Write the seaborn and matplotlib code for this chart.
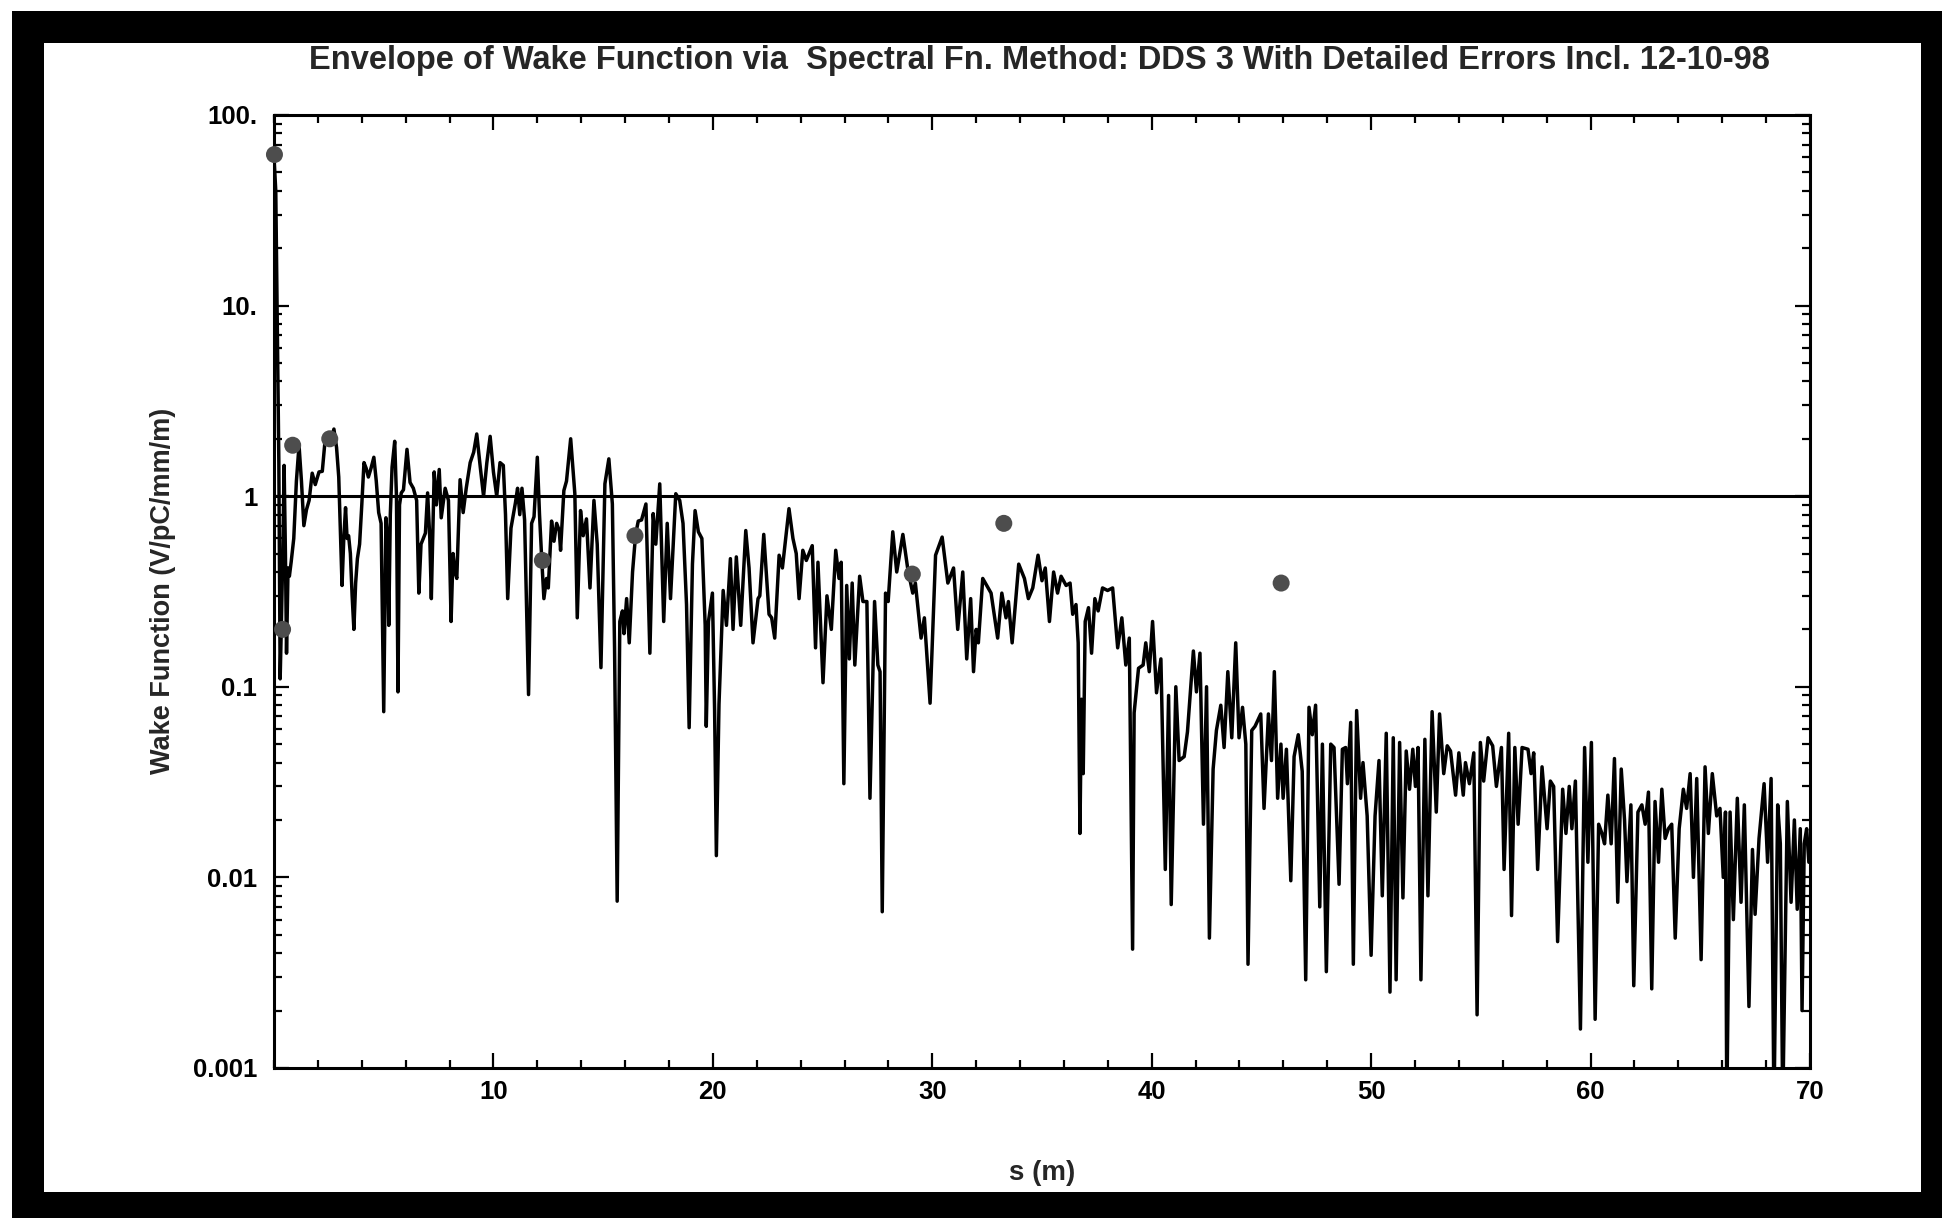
import numpy as np
import pandas as pd
import matplotlib
matplotlib.use("Agg")
import matplotlib.pyplot as plt
import seaborn as sns
from matplotlib import font_manager
from matplotlib.patches import Rectangle
from matplotlib.ticker import FixedLocator, MultipleLocator, LogLocator, NullFormatter

# wake envelope: (s in m, wake in V/pC/mm/m), piece by piece
wake_0_12 = [
    (0.00, 60), (0.08, 40), (0.15, 8), (0.22, 1.5), (0.28, 0.11), (0.33, 0.2),
    (0.40, 0.5), (0.46, 1.45), (0.52, 0.5), (0.57, 0.15), (0.64, 0.42), (0.70, 0.38),
    (0.78, 0.45), (0.90, 0.6), (1.02, 1.2), (1.14, 1.85), (1.25, 1.2), (1.36, 0.7),
    (1.48, 0.85), (1.60, 0.95), (1.74, 1.32), (1.88, 1.15), (2.05, 1.34), (2.20, 1.35),
    (2.35, 2.1), (2.50, 1.95), (2.62, 2.0), (2.73, 2.25), (2.85, 1.8), (2.95, 1.26),
    (3.10, 0.34), (3.18, 0.6), (3.26, 0.87), (3.33, 0.6), (3.40, 0.62), (3.48, 0.5),
    (3.56, 0.3), (3.64, 0.2), (3.72, 0.35), (3.80, 0.47), (3.90, 0.56), (4.00, 0.9),
    (4.10, 1.5), (4.20, 1.4), (4.30, 1.26), (4.42, 1.4), (4.55, 1.6), (4.66, 1.2),
    (4.77, 0.82), (4.88, 0.72), (5.00, 0.074), (5.10, 0.77), (5.17, 0.6), (5.23, 0.21),
    (5.30, 0.8), (5.38, 1.42), (5.50, 1.94), (5.58, 1.0), (5.65, 0.094), (5.72, 0.9),
    (5.80, 1.04), (5.90, 1.08), (6.06, 1.76), (6.20, 1.18), (6.35, 1.1), (6.50, 0.95),
    (6.60, 0.31), (6.70, 0.56), (6.90, 0.64), (7.00, 1.04), (7.10, 0.6), (7.17, 0.29),
    (7.30, 1.34), (7.40, 0.9), (7.53, 1.38), (7.62, 0.77), (7.80, 1.1), (7.95, 0.95),
    (8.07, 0.22), (8.16, 0.5), (8.25, 0.4), (8.33, 0.37), (8.48, 1.22), (8.62, 0.82),
    (8.76, 1.1), (8.94, 1.5), (9.10, 1.7), (9.24, 2.12), (9.40, 1.42), (9.55, 1.0),
    (9.70, 1.5), (9.85, 2.06), (10.00, 1.34), (10.15, 1.0), (10.30, 1.5), (10.45, 1.45),
    (10.55, 0.8), (10.65, 0.29), (10.80, 0.68), (11.00, 0.92), (11.10, 1.1), (11.20, 0.8),
    (11.30, 1.1), (11.42, 0.75), (11.60, 0.091), (11.74, 0.72), (11.85, 0.78), (12.00, 1.6),
    (12.10, 0.8), (12.20, 0.47), (12.30, 0.29),
]
wake_12_25 = [
    (12.42, 0.37), (12.50, 0.33), (12.65, 0.74), (12.76, 0.58), (12.88, 0.72), (13.00, 0.66),
    (13.06, 0.52), (13.21, 1.07), (13.33, 1.2), (13.52, 2.0), (13.71, 1.03), (13.82, 0.23),
    (13.97, 0.84), (14.09, 0.62), (14.24, 0.76), (14.40, 0.33), (14.58, 0.95), (14.73, 0.56),
    (14.90, 0.126), (15.08, 1.16), (15.26, 1.57), (15.42, 0.91), (15.52, 0.16), (15.64, 0.0075),
    (15.76, 0.22), (15.88, 0.25), (15.95, 0.19), (16.07, 0.29), (16.19, 0.17), (16.34, 0.4),
    (16.48, 0.63), (16.60, 0.74), (16.75, 0.75), (16.95, 0.91), (17.13, 0.15), (17.28, 0.81),
    (17.40, 0.56), (17.58, 1.16), (17.76, 0.22), (17.92, 0.72), (18.07, 0.29), (18.31, 1.03),
    (18.49, 0.95), (18.64, 0.72), (18.80, 0.27), (18.92, 0.061), (19.07, 0.44), (19.19, 0.84),
    (19.34, 0.65), (19.50, 0.6), (19.65, 0.21), (19.70, 0.062), (19.80, 0.22), (19.98, 0.31),
    (20.08, 0.075), (20.16, 0.013), (20.28, 0.081), (20.47, 0.32), (20.62, 0.21), (20.80, 0.47),
    (20.92, 0.2), (21.07, 0.48), (21.27, 0.21), (21.50, 0.66), (21.65, 0.42), (21.83, 0.17),
    (22.06, 0.29), (22.14, 0.3), (22.32, 0.63), (22.56, 0.24), (22.68, 0.23), (22.82, 0.18),
    (23.02, 0.49), (23.17, 0.42), (23.47, 0.86), (23.65, 0.6), (23.80, 0.5), (23.93, 0.29),
    (24.10, 0.52), (24.26, 0.46), (24.53, 0.55), (24.68, 0.16), (24.79, 0.45),
]
wake_25_37 = [
    (25.02, 0.105), (25.20, 0.3), (25.40, 0.2), (25.60, 0.52), (25.75, 0.37), (25.85, 0.45),
    (25.97, 0.031), (26.10, 0.34), (26.22, 0.14), (26.35, 0.35), (26.47, 0.13), (26.69, 0.38),
    (26.84, 0.28), (27.02, 0.28), (27.16, 0.026), (27.37, 0.28), (27.52, 0.13), (27.62, 0.12),
    (27.72, 0.0066), (27.87, 0.31), (27.99, 0.28), (28.20, 0.65), (28.38, 0.4), (28.66, 0.63),
    (28.89, 0.41), (29.11, 0.31), (29.23, 0.35), (29.49, 0.18), (29.64, 0.23), (29.90, 0.082),
    (30.15, 0.49), (30.45, 0.61), (30.71, 0.35), (30.97, 0.42), (31.16, 0.2), (31.39, 0.4),
    (31.57, 0.14), (31.75, 0.29), (31.88, 0.12), (32.00, 0.2), (32.10, 0.17), (32.30, 0.37),
    (32.68, 0.31), (32.98, 0.18), (33.17, 0.31), (33.36, 0.23), (33.47, 0.28), (33.64, 0.17),
    (33.94, 0.44), (34.20, 0.37), (34.38, 0.29), (34.58, 0.33), (34.82, 0.49), (35.00, 0.36),
    (35.15, 0.42), (35.34, 0.22), (35.53, 0.4), (35.71, 0.31), (35.87, 0.38), (36.10, 0.34),
    (36.28, 0.35), (36.40, 0.24), (36.55, 0.27), (36.65, 0.17), (36.73, 0.017), (36.80, 0.086),
    (36.88, 0.035), (36.97, 0.22), (37.12, 0.26),
]
wake_37_49 = [
    (37.26, 0.15), (37.41, 0.29), (37.56, 0.25), (37.76, 0.33), (37.99, 0.32), (38.22, 0.33),
    (38.45, 0.16), (38.64, 0.23), (38.82, 0.13), (38.98, 0.18), (39.13, 0.0042), (39.20, 0.073),
    (39.40, 0.125), (39.61, 0.13), (39.73, 0.17), (39.89, 0.12), (40.04, 0.22), (40.22, 0.093),
    (40.42, 0.14), (40.62, 0.011), (40.77, 0.09), (40.89, 0.0072), (41.10, 0.1), (41.25, 0.041),
    (41.48, 0.043), (41.63, 0.058), (41.90, 0.154), (42.04, 0.094), (42.20, 0.15), (42.36, 0.019),
    (42.50, 0.1), (42.63, 0.0048), (42.80, 0.037), (42.95, 0.059), (43.15, 0.08), (43.30, 0.048),
    (43.47, 0.12), (43.65, 0.054), (43.83, 0.17), (43.98, 0.054), (44.14, 0.078), (44.29, 0.05),
    (44.39, 0.0035), (44.56, 0.059), (44.71, 0.062), (44.97, 0.072), (45.12, 0.023), (45.32, 0.072),
    (45.46, 0.041), (45.59, 0.12), (45.74, 0.026), (45.89, 0.05), (45.99, 0.026), (46.14, 0.047),
    (46.34, 0.0096), (46.49, 0.043), (46.68, 0.056), (46.86, 0.036), (47.02, 0.0029), (47.17, 0.078),
    (47.32, 0.056), (47.47, 0.08), (47.66, 0.007), (47.78, 0.05), (47.96, 0.0032), (48.16, 0.05),
    (48.31, 0.048), (48.54, 0.0092), (48.69, 0.047), (48.84, 0.048), (48.92, 0.031), (49.07, 0.065),
    (49.19, 0.0035), (49.34, 0.075),
]
wake_49_60 = [
    (49.52, 0.026), (49.63, 0.04), (49.82, 0.021), (50.00, 0.0039), (50.18, 0.021), (50.36, 0.041),
    (50.51, 0.008), (50.69, 0.057), (50.86, 0.0025), (51.01, 0.054), (51.14, 0.0029), (51.30, 0.051),
    (51.45, 0.0078), (51.60, 0.046), (51.75, 0.029), (51.90, 0.047), (52.02, 0.03), (52.14, 0.048),
    (52.27, 0.0029), (52.45, 0.053), (52.59, 0.008), (52.78, 0.074), (52.97, 0.022), (53.12, 0.072),
    (53.31, 0.035), (53.47, 0.049), (53.62, 0.046), (53.85, 0.027), (54.00, 0.045), (54.20, 0.027),
    (54.30, 0.04), (54.48, 0.031), (54.68, 0.045), (54.83, 0.0019), (54.98, 0.051), (55.13, 0.032),
    (55.33, 0.054), (55.54, 0.049), (55.71, 0.03), (55.94, 0.048), (56.06, 0.011), (56.27, 0.057),
    (56.40, 0.0063), (56.55, 0.048), (56.70, 0.019), (56.88, 0.048), (57.15, 0.047), (57.29, 0.035),
    (57.41, 0.045), (57.59, 0.011), (57.79, 0.038), (58.02, 0.018), (58.17, 0.032), (58.32, 0.03),
    (58.50, 0.0046), (58.73, 0.029), (58.88, 0.017), (59.03, 0.03), (59.15, 0.018), (59.31, 0.032),
    (59.54, 0.0016), (59.73, 0.048), (59.88, 0.012), (60.04, 0.051),
]
wake_60_70 = [
    (60.21, 0.0018), (60.37, 0.019), (60.52, 0.017), (60.64, 0.015), (60.79, 0.027), (60.94, 0.015),
    (61.09, 0.042), (61.24, 0.0074), (61.40, 0.037), (61.55, 0.02), (61.66, 0.0095), (61.84, 0.024),
    (61.97, 0.0027), (62.16, 0.022), (62.34, 0.024), (62.49, 0.019), (62.64, 0.028), (62.79, 0.0026),
    (62.94, 0.025), (63.10, 0.012), (63.25, 0.029), (63.40, 0.016), (63.55, 0.018), (63.70, 0.019),
    (63.86, 0.0048), (64.04, 0.018), (64.23, 0.029), (64.38, 0.023), (64.54, 0.035), (64.69, 0.01),
    (64.84, 0.033), (65.04, 0.0037), (65.22, 0.038), (65.37, 0.017), (65.55, 0.035), (65.75, 0.021),
    (65.90, 0.023), (66.05, 0.01), (66.15, 0.022), (66.21, 0.0006), (66.36, 0.022), (66.51, 0.006),
    (66.69, 0.026), (66.86, 0.0074), (67.01, 0.024), (67.22, 0.0021), (67.38, 0.014), (67.50, 0.0064),
    (67.68, 0.016), (67.91, 0.031), (68.07, 0.012), (68.23, 0.033), (68.36, 0.0006), (68.53, 0.024),
    (68.65, 0.015), (68.76, 0.0006), (68.97, 0.025), (69.14, 0.0074), (69.29, 0.02), (69.42, 0.0068),
    (69.56, 0.018), (69.64, 0.002), (69.74, 0.015), (69.85, 0.018), (69.95, 0.012),
]

# the grey dots
dots_s = [0.02, 0.39, 0.85, 2.54, 12.23, 16.45, 29.09, 33.26, 45.9]
dots_w = [62, 0.2, 1.85, 2.0, 0.46, 0.62, 0.39, 0.72, 0.35]

xticks = [10, 20, 30, 40, 50, 60, 70]
yticks = [100, 10, 1, 0.1, 0.01, 0.001]
ylabels = ["100.", "10.", "1", "0.1", "0.01", "0.001"]

title = "Envelope of Wake Function via  Spectral Fn. Method: DDS 3 With Detailed Errors Incl. 12-10-98"

df = pd.DataFrame(wake_0_12 + wake_12_25 + wake_25_37 + wake_37_49 + wake_49_60 + wake_60_70,
                  columns=["s", "wake"])

sns.set_style("ticks")
plt.rcParams["font.family"] = ["Liberation Sans", "DejaVu Sans"]
plt.rcParams["font.weight"] = "bold"

names = {f.name for f in font_manager.fontManager.ttflist}
if "Liberation Sans Narrow" in names:
    title_font, title_size = ["Liberation Sans Narrow", "Liberation Sans"], 28.9
else:
    title_font, title_size = ["Liberation Sans", "DejaVu Sans"], 23.5

fig = plt.figure(figsize=(19.42, 12.18), dpi=100, facecolor="white")
# black frame round the page
fig.add_artist(Rectangle((0.0062, 0.0), 0.9938, 0.991, transform=fig.transFigure,
                         facecolor="black", edgecolor="none", zorder=-20))
fig.add_artist(Rectangle((0.0227, 0.0214), 0.9665, 0.9433, transform=fig.transFigure,
                         facecolor="white", edgecolor="none", zorder=-19))

ax = fig.add_axes([0.1411, 0.1232, 0.7909, 0.7824])

sns.lineplot(data=df, x="s", y="wake", ax=ax, color="black", linewidth=2.5,
             estimator=None, sort=False, zorder=3)
ax.axhline(1, color="black", linewidth=2.2, zorder=2)
sns.scatterplot(x=dots_s, y=dots_w, ax=ax, color="#4d4d4d", s=150,
                edgecolor="none", zorder=5, clip_on=False)

ax.set_yscale("log")
ax.set_xlim(0, 70)
ax.set_ylim(0.001, 100)

ax.xaxis.set_major_locator(FixedLocator(xticks))
ax.xaxis.set_minor_locator(MultipleLocator(2))
ax.yaxis.set_major_locator(FixedLocator(yticks))
ax.set_yticklabels(ylabels)
ax.yaxis.set_minor_locator(LogLocator(base=10, subs=range(2, 10)))
ax.yaxis.set_minor_formatter(NullFormatter())

ax.tick_params(which="both", direction="in", top=True, right=True, width=1.6, colors="black")
ax.tick_params(which="major", length=11, labelsize=18.5)
ax.tick_params(which="minor", length=6)
ax.tick_params(axis="y", which="major", pad=12)
ax.tick_params(axis="x", which="major", pad=9)
for lab in ax.get_xticklabels() + ax.get_yticklabels():
    lab.set_fontweight("bold")

for sp in ax.spines.values():
    sp.set_linewidth(2.2)
    sp.set_color("black")

ax.set_xlabel("")
ax.set_ylabel("")
fig.text(0.5354, 0.950, title, ha="center", va="center", fontsize=title_size,
         fontweight="bold", family=title_font)
fig.text(0.5364, 0.037, "s (m)", ha="center", va="center", fontsize=20, fontweight="bold")
fig.text(0.0839, 0.5148, "Wake Function (V/pC/mm/m)", ha="center", va="center",
         rotation=90, fontsize=19.5, fontweight="bold")

fig.savefig("out.png", dpi=100, facecolor="white")
